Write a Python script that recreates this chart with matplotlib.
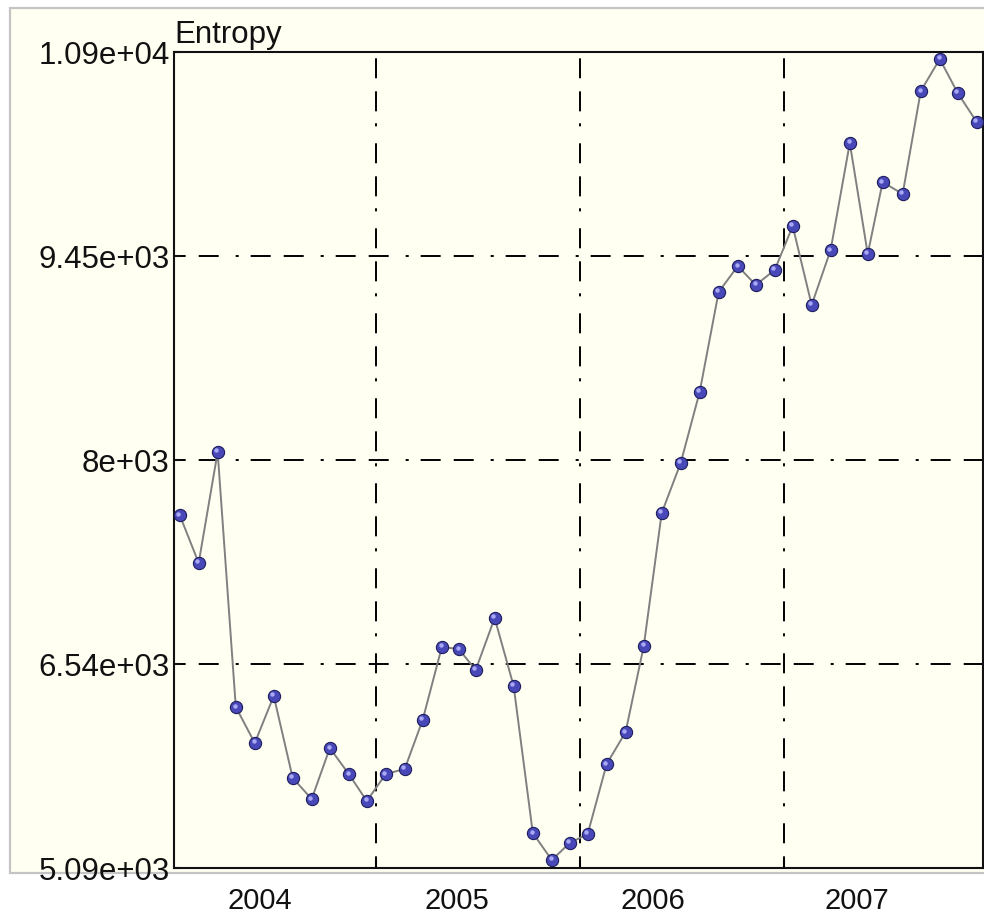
import numpy as np
import matplotlib as mpl
mpl.use('Agg')
import matplotlib.pyplot as plt
import matplotlib.ticker as plticker
import matplotlib.transforms as mtrans
from matplotlib.patches import Rectangle

# sample times (decimal years) and entropy values
sample_time = [2004.039, 2004.132, 2004.225, 2004.314, 2004.407, 2004.500, 2004.593,
               2004.686, 2004.775, 2004.868, 2004.956, 2005.049, 2005.142, 2005.230,
               2005.324, 2005.407, 2005.490, 2005.583, 2005.676, 2005.770, 2005.863,
               2005.951, 2006.039, 2006.132, 2006.225, 2006.314, 2006.402, 2006.495,
               2006.588, 2006.681, 2006.775, 2006.863, 2006.956, 2007.044, 2007.137,
               2007.230, 2007.324, 2007.412, 2007.485, 2007.583, 2007.672, 2007.765,
               2007.853, 2007.946]
entropy = [7603, 7262, 8052, 6236, 5980, 6315, 5731, 5581, 5944, 5759, 5567,
           5759, 5795, 6144, 6664, 6649, 6500, 6870, 6386, 5339, 5147, 5268,
           5332, 5830, 6058, 6671, 7618, 7974, 8479, 9191, 9376, 9241, 9348,
           9661, 9099, 9490, 10252, 9462, 9974, 9889, 10622, 10850, 10608, 10402]
years = [2004, 2005, 2006, 2007]
year_label_pos = [2004.43, 2005.40, 2006.36, 2007.36]
x_range = (2004.011, 2007.977)
y_range = (5090, 10900)

CREAM = '#fffff2'
mpl.rcParams['font.family'] = ['Liberation Sans', 'DejaVu Sans']
mpl.rcParams['lines.scale_dashes'] = False

fig = plt.figure(figsize=(9.84, 9.14), dpi=100, facecolor='white')
# the cream panel behind the plot (x labels sit below it, on white)
fig.add_artist(Rectangle((10/984, 41/914), 1.0, 865/914, transform=fig.transFigure,
                         facecolor=CREAM, edgecolor='#c4c4c4', linewidth=1.6, zorder=0))

ax = fig.add_axes([174/984, 46/914, 809/984, 816/914])
ax.set_facecolor(CREAM)
ax.set_axisbelow(True)
for sp in ax.spines.values():
  sp.set_linewidth(1.5)
  sp.set_color('#111111')

ax.plot(sample_time, entropy, color='#808080', linewidth=1.4, zorder=3)
ax.plot(sample_time, entropy, 'o', markersize=8.8, markerfacecolor='#4848b8',
        markeredgecolor='#1e1e5e', markeredgewidth=0.8, zorder=4)
shine = mtrans.offset_copy(ax.transData, fig=fig, x=-0.9, y=1.1, units='points')
ax.plot(sample_time, entropy, 'o', markersize=3.2, color='#a8a8f4',
        markeredgewidth=0, transform=shine, zorder=5)

ax.set_xlim(*x_range)
ax.set_ylim(*y_range)
ax.set_yticks(np.linspace(y_range[0], y_range[1], 5))
ax.yaxis.set_major_formatter(plticker.FormatStrFormatter('%.3g'))
ax.set_xticks(year_label_pos)
ax.set_xticklabels([str(y) for y in years])
ax.set_xticks(years[1:], minor=True)

grid_style = (6, (14.4, 9.4, 14.4, 12.2, 2.2, 8.6))
ax.grid(False)
ax.yaxis.grid(True, which='major', color='black', linewidth=1.4, linestyle=grid_style)
ax.xaxis.grid(True, which='minor', color='black', linewidth=1.4, linestyle=grid_style)

ax.tick_params(axis='y', direction='in', length=4, width=1.5, pad=3, labelsize=22.5, colors='#111111')
ax.tick_params(axis='x', which='major', length=0, pad=14, labelsize=21, colors='#111111')
ax.tick_params(axis='x', which='minor', direction='in', length=6, width=1.5)

ax.text(0.0, 1.002, 'Entropy', transform=ax.transAxes, ha='left', va='bottom',
        fontsize=22.5, color='#111111')

fig.savefig('out.png', dpi=100, facecolor='white')
